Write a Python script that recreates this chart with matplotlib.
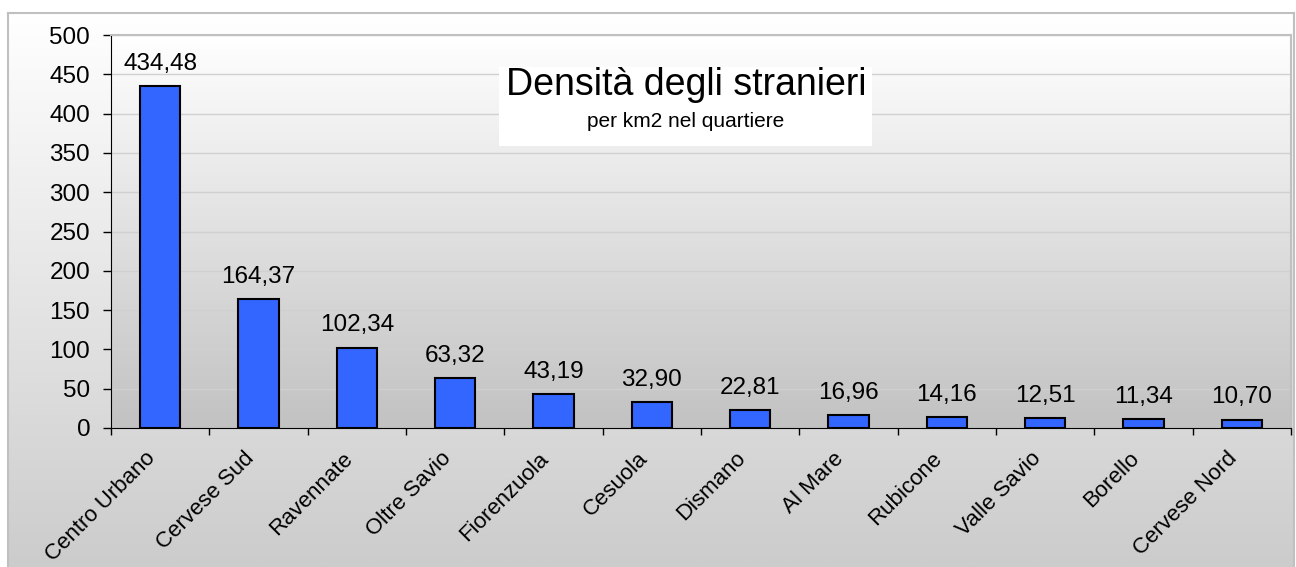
import matplotlib.pyplot as plt
from matplotlib.patches import Rectangle
import numpy as np

# dati: densità degli stranieri per km2 nel quartiere
quartieri = ['Centro Urbano', 'Cervese Sud', 'Ravennate', 'Oltre Savio', 'Fiorenzuola',
             'Cesuola', 'Dismano', 'Al Mare', 'Rubicone', 'Valle Savio', 'Borello', 'Cervese Nord']
densita = [434.48, 164.37, 102.34, 63.32, 43.19, 32.90, 22.81, 16.96, 14.16, 12.51, 11.34, 10.70]
y_ticks = [0, 50, 100, 150, 200, 250, 300, 350, 400, 450, 500]

plt.rcParams['font.family'] = ['Liberation Sans', 'DejaVu Sans']

W, H = 1296, 567
fig = plt.figure(figsize=(W / 100, H / 100), dpi=100)
fig.patch.set_facecolor('white')

# sfondo esterno con sfumatura
bg = fig.add_axes([8 / W, 0, (1294 - 8) / W, 1 - 13 / H], zorder=-10)
grad_out = np.linspace(1.0, 0.80, 256).reshape(-1, 1)
bg.imshow(np.dstack([grad_out] * 3), aspect='auto', extent=[0, 1, 0, 1])
bg.set_xlim(0, 1)
bg.set_ylim(0, 1)
for s in bg.spines.values():
    s.set_color('#c0c0c0')
    s.set_linewidth(1.5)
bg.spines['bottom'].set_visible(False)
bg.set_xticks([])
bg.set_yticks([])

# area del grafico
ax = fig.add_axes([111 / W, 1 - 428 / H, (1291 - 111) / W, (428 - 35) / H])
grad_in = np.linspace(1.0, 0.76, 256).reshape(-1, 1)
ax.imshow(np.dstack([grad_in] * 3), aspect='auto', extent=[0, 1, 0, 1],
          transform=ax.transAxes, zorder=0)

x = np.arange(len(quartieri))
ax.bar(x, densita, width=0.41, color='#3366ff', edgecolor='black', linewidth=1.5, zorder=3)

for xi, v in zip(x, densita):
    ax.annotate(f'{v:.2f}'.replace('.', ','), (xi, v), xytext=(0, 8),
                textcoords='offset points', ha='center', va='bottom', fontsize=17.5)

ax.set_xlim(-0.5, len(quartieri) - 0.5)
ax.set_ylim(0, 500)
ax.set_yticks(y_ticks)
ax.tick_params(axis='y', labelsize=17.5, length=6, width=1, direction='out', pad=9)
ax.grid(axis='y', color='#d0d0d0', lw=1, zorder=1)

ax.set_xticks(np.arange(len(quartieri) + 1) - 0.5)
ax.set_xticklabels([])
ax.tick_params(axis='x', length=5, width=1, direction='out')
for xi, name in zip(x, quartieri):
    ax.annotate(name, (xi, 0), xytext=(-15, -20), textcoords='offset pixels',
                rotation=45, rotation_mode='anchor', ha='right', va='top',
                fontsize=16, annotation_clip=False)

ax.spines['left'].set_color('black')
ax.spines['bottom'].set_color('black')
ax.spines['top'].set_color('#c0c0c0')
ax.spines['right'].set_color('#c0c0c0')
ax.spines['top'].set_linewidth(1.5)
ax.spines['right'].set_linewidth(1.5)

# riquadro del titolo
fig.patches.append(Rectangle((499 / W, 1 - 146 / H), (872 - 499) / W, (146 - 67) / H,
                             transform=fig.transFigure, facecolor='white', edgecolor='none',
                             zorder=5))
fig.text(686 / W, 1 - 95 / H, 'Densità degli stranieri', ha='center', va='baseline',
         fontsize=27, zorder=6)
fig.text(686 / W, 1 - 127 / H, 'per km2 nel quartiere', ha='center', va='baseline',
         fontsize=15, zorder=6)

fig.savefig('out.png', dpi=100)
